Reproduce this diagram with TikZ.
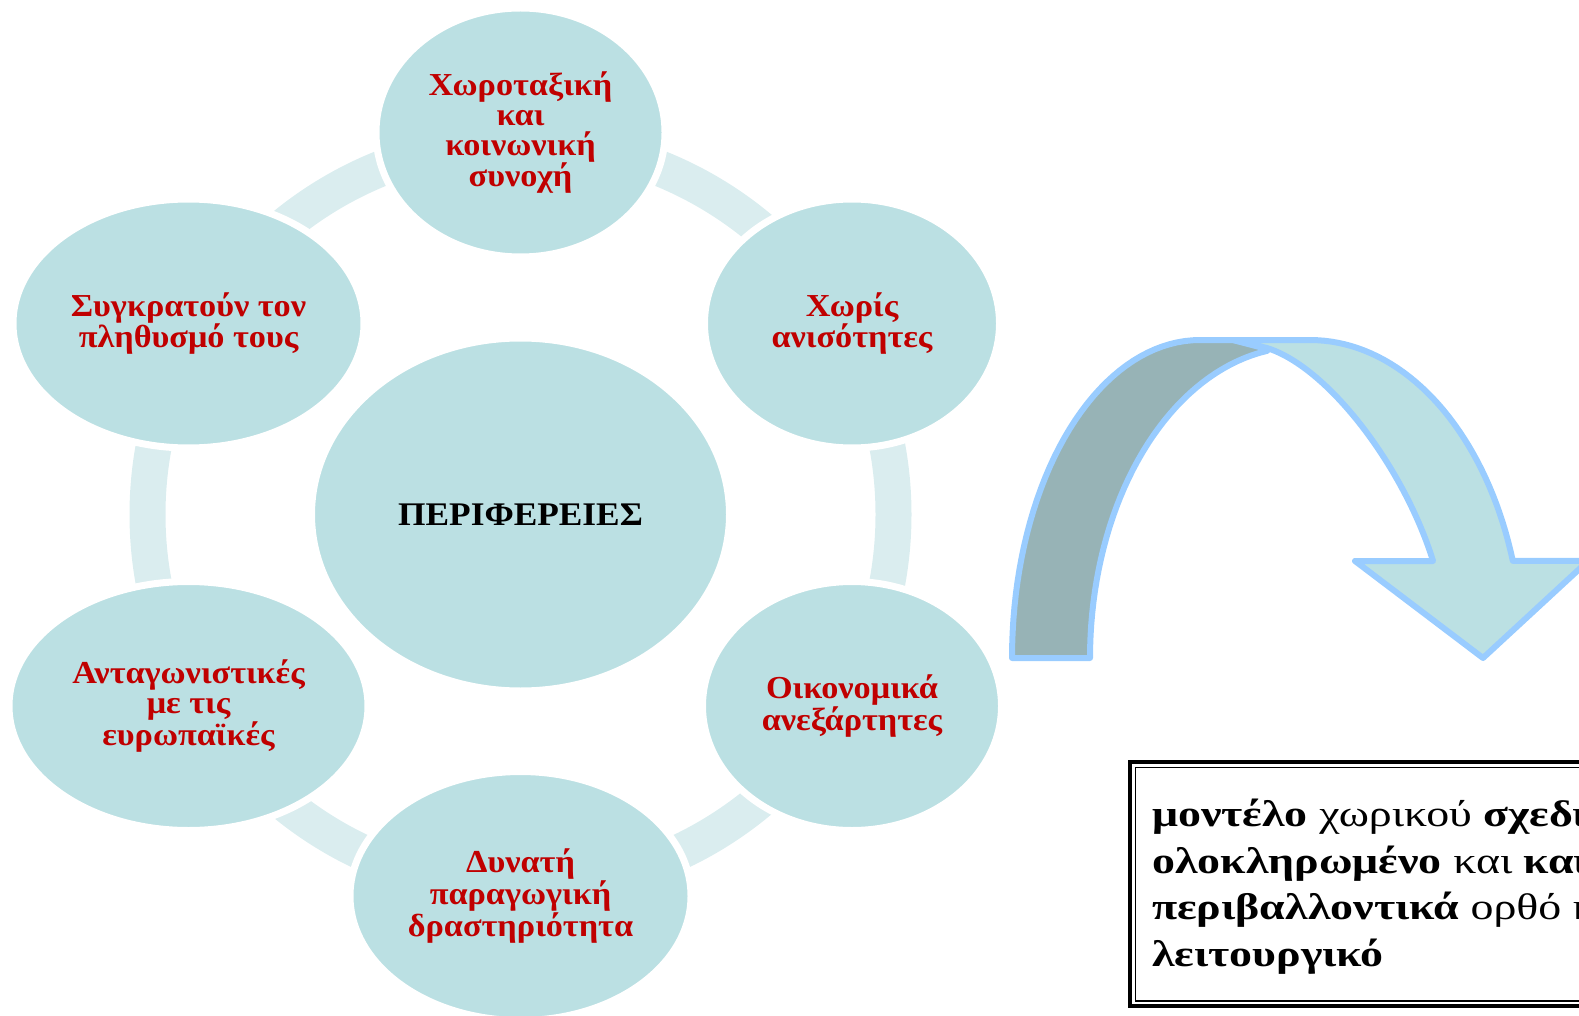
\documentclass[tikz,border=0pt]{standalone}
\usepackage{fontspec}
\setmainfont{Liberation Serif}
\newfontfamily\bubfont[FakeStretch=1.07]{Liberation Serif}
\newfontfamily\boxfont[FakeStretch=1.24]{Liberation Serif}
\usetikzlibrary{shapes.geometric}
\definecolor{fillc}{HTML}{BBE0E3}
\definecolor{ringc}{HTML}{DAEDEF}
\definecolor{darkc}{HTML}{97B3B6}
\definecolor{edgec}{HTML}{99CCFF}
\definecolor{redc}{HTML}{C00000}
\begin{document}
\begin{tikzpicture}[x=1pt,y=-1pt,
  bubble/.style={ellipse, fill=fillc, draw=white, line width=7pt, inner sep=0pt,
    minimum height=249pt, text=redc, font=\bubfont\fontsize{32}{30}\selectfont\bfseries, align=center},
  arrowpart/.style={draw=edgec, line width=6pt, line join=round},
  boxline/.style={anchor=base west, inner sep=0pt, font=\boxfont\fontsize{37}{47}\selectfont}
 ]
\useasboundingbox (0,0) rectangle (1579,1016);
\clip (0,0) rectangle (1579,1016);
% ring
\draw[ringc, line width=36pt] (520.5,514.5) circle[radius=373];
% bubbles
\node[bubble, minimum width=418pt, minimum height=353pt, text=black,
      font=\bubfont\fontsize{33}{30}\selectfont\bfseries] (center) at (520.5,514.5) {ΠΕΡΙΦΕΡΕΙΕΣ};
\node[bubble, minimum width=289pt] (n1) at (520.5,132.5) {Χωροταξική\\και\\κοινωνική\\συνοχή};
\node[bubble, minimum width=295pt] (n2) at (852,323.5) {Χωρίς\\ανισότητες};
\node[bubble, minimum width=299pt] (n3) at (852,706) {Οικονομικά\\ανεξάρτητες};
\node[bubble, minimum width=341pt] (n4) at (520.5,896) {Δυνατή\\παραγωγική\\δραστηριότητα};
\node[bubble, minimum width=359pt] (n5) at (188.5,706) {Ανταγωνιστικές\\με τις\\ευρωπαϊκές};
\node[bubble, minimum width=351pt] (n6) at (188.5,323.5) {Συγκρατούν τον\\πληθυσμό τους};
% curved arrow: back part
\draw[arrowpart, fill=darkc]
  plot[domain=0:90, samples=40] ({1200-188*cos(\x)}, {658-318*sin(\x)})
  -- (1233,340) -- (1267,349)
  -- plot[domain=99:180, samples=40] ({1300+210*cos(\x)}, {658-311*sin(\x)})
  -- cycle;
% curved arrow: front part with head
\draw[arrowpart, fill=fillc]
  (1233,340) -- (1310,340)
  -- plot[domain=0:72.2, samples=40] ({1310+213*sin(\x)}, {658-318*cos(\x)})
  -- (1588,561) -- (1483,658) -- (1355,561) -- (1433,561)
  .. controls (1405,470) and (1330,368) .. (1267,348)
  -- cycle;
% text box
\draw[line width=3.5pt] (1130,762) rectangle (1650,1006);
\draw[line width=1.5pt] (1135.5,767.5) rectangle (1650,1001);
\node[boxline] (t1) at (1152,826) {\textbf{μοντέλο} χωρικού \textbf{σχεδιασμού}};
\node[boxline] (t2) at (1152,873) {\textbf{ολοκληρωμένο} και \textbf{καινοτόμο}};
\node[boxline] (t3) at (1152,919) {\textbf{περιβαλλοντικά} ορθό και};
\node[boxline] (t4) at (1152,966) {\textbf{λειτουργικό}};
\end{tikzpicture}
\end{document}
